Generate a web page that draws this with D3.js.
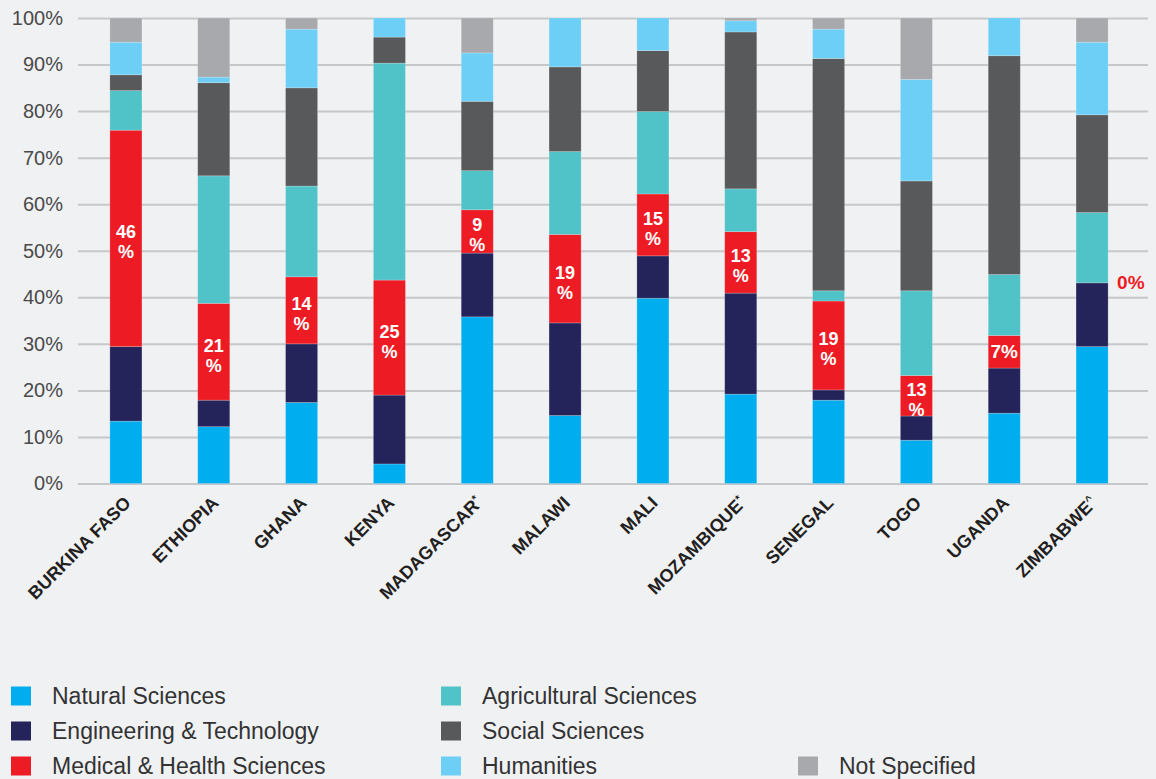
<!DOCTYPE html>
<html>
<head>
<meta charset="utf-8">
<script src="https://cdn.jsdelivr.net/npm/d3@7"></script>
<style>
  html, body { margin: 0; padding: 0; background: #F0F1F3; }
  svg { display: block; }
</style>
</head>
<body>
<svg id="chart" width="1156" height="779"></svg>
<script>
// ---- data ----
const countries = ["BURKINA FASO","ETHIOPIA","GHANA","KENYA","MADAGASCAR*","MALAWI","MALI","MOZAMBIQUE*","SENEGAL","TOGO","UGANDA","ZIMBABWE^"];
const naturalSciences      = [13.4, 12.2, 17.4,  4.2, 35.8, 14.6, 39.8, 19.2, 17.9,  9.3, 15.1, 29.4];
const engineeringTech      = [16.0,  5.7, 12.6, 14.8, 13.7, 19.9,  9.1, 21.7,  2.2,  5.2,  9.7, 13.7];
const medicalHealth        = [46.5, 20.8, 14.4, 24.7,  9.3, 19.0, 13.3, 13.2, 19.1,  8.7,  7.0,  0.0];
const agriculturalSciences = [ 8.5, 27.4, 19.5, 46.6,  8.4, 17.8, 17.7,  9.2,  2.2, 18.2, 13.1, 15.1];
const socialSciences       = [ 3.4, 20.0, 21.1,  5.6, 14.9, 18.2, 13.1, 33.7, 49.9, 23.6, 47.0, 21.0];
const humanities           = [ 7.0,  1.2, 12.6,  4.1, 10.4, 10.5,  7.0,  2.4,  6.3, 21.8,  8.1, 15.6];
const notSpecified         = [ 5.2, 12.7,  2.4,  0.0,  7.5,  0.0,  0.0,  0.6,  2.4, 13.2,  0.0,  5.2];
const medicalLabels        = [46, 21, 14, 25, 9, 19, 15, 13, 19, 13, 7, 0];
const yTicks = [0, 10, 20, 30, 40, 50, 60, 70, 80, 90, 100];

const seriesNames  = ["Natural Sciences","Engineering & Technology","Medical & Health Sciences","Agricultural Sciences","Social Sciences","Humanities","Not Specified"];
const seriesKeys   = ["ns","et","mh","ag","ss","hu","nsp"];
const seriesColors = ["#00AEEF","#24235A","#ED1C24","#50C3C8","#58595B","#6DCFF6","#A7A9AC"];
const seriesValues = [naturalSciences, engineeringTech, medicalHealth, agriculturalSciences, socialSciences, humanities, notSpecified];

// ---- build table ----
const table = countries.map((c, i) => {
  const row = { country: c, idx: i };
  seriesKeys.forEach((k, j) => row[k] = seriesValues[j][i]);
  return row;
});

const svg = d3.select("#chart");

const x = d3.scaleBand().domain(countries).range([82, 1136]).paddingInner(0.635).paddingOuter(0.3175);
const y = d3.scaleLinear().domain([0, 100]).range([483.5, 18]);
const color = d3.scaleOrdinal().domain(seriesKeys).range(seriesColors);

// gridlines + y labels
const yAxis = d3.axisLeft(y).tickValues(yTicks).tickSize(-(1148 - 78)).tickFormat(d => d + "%").tickPadding(15);
const gAxis = svg.append("g").attr("transform", "translate(78,0)").call(yAxis);
gAxis.select(".domain").remove();
gAxis.selectAll(".tick line").attr("stroke", "#C6C7C9").attr("stroke-width", 2);
gAxis.selectAll(".tick text")
  .attr("fill", "#4a4a4a")
  .attr("font-family", "'Liberation Sans', Arial, sans-serif")
  .attr("font-size", 20)
  .attr("font-weight", 300);

// stacked bars
const stack = d3.stack().keys(seriesKeys);
const stacked = stack(table);

svg.append("g").selectAll("g")
  .data(stacked)
  .join("g")
  .attr("fill", d => color(d.key))
  .selectAll("rect")
  .data(d => d)
  .join("rect")
  .attr("x", d => x(d.data.country))
  .attr("width", x.bandwidth())
  .attr("y", d => y(d[1]))
  .attr("height", d => Math.max(0, y(d[0]) - y(d[1])))
  .attr("stroke", "rgba(255,255,255,0.25)")
  .attr("stroke-width", 0.8);

// medical labels
const medLayer = stacked[seriesKeys.indexOf("mh")];
const lblFont = "'Liberation Sans', Arial, sans-serif";
const lg = svg.append("g");
medLayer.forEach((d, i) => {
  const cx = x(d.data.country) + x.bandwidth() / 2;
  const top = y(d[1]), bot = y(d[0]);
  const h = bot - top;
  const mid = (top + bot) / 2;
  const v = medicalLabels[i];
  if (h < 1) {
    lg.append("text")
      .attr("x", x(d.data.country) + x.bandwidth() + 9)
      .attr("y", mid)
      .attr("dominant-baseline", "central")
      .attr("fill", "#ED1C24")
      .attr("font-family", lblFont).attr("font-weight", "bold").attr("font-size", 19)
      .text(v + "%");
  } else if (h < 36) {
    lg.append("text")
      .attr("x", cx).attr("y", mid)
      .attr("text-anchor", "middle").attr("dominant-baseline", "central")
      .attr("fill", "#fff")
      .attr("font-family", lblFont).attr("font-weight", "bold").attr("font-size", 19)
      .text(v + "%");
  } else {
    const t = lg.append("text")
      .attr("text-anchor", "middle")
      .attr("fill", "#fff")
      .attr("font-family", lblFont).attr("font-weight", "bold").attr("font-size", 18);
    t.append("tspan").attr("x", cx).attr("y", mid - 6).attr("dominant-baseline", "central").text(v);
    t.append("tspan").attr("x", cx).attr("y", mid + 14).attr("dominant-baseline", "central").text("%");
  }
});

// x labels
const xg = svg.append("g");
countries.forEach(c => {
  const cx = x(c) + x.bandwidth() / 2;
  const t = xg.append("text")
    .attr("transform", `translate(${cx + 6},${504}) rotate(-45)`)
    .attr("text-anchor", "end")
    .attr("fill", "#231F20")
    .attr("font-family", lblFont)
    .attr("font-weight", "bold")
    .attr("font-size", 18);
  const m = c.match(/^(.*?)([*^])$/);
  if (m) {
    t.append("tspan").text(m[1]);
    t.append("tspan").attr("font-size", 11).attr("dy", -6).text(m[2]);
  } else {
    t.text(c);
  }
});

// legend
const legendCols = [11, 441, 798];
const legendRows = [696, 731, 766];
const legendPos = [[0,0],[0,1],[0,2],[1,0],[1,1],[1,2],[2,2]];
const leg = svg.append("g");
seriesNames.forEach((name, i) => {
  const [c, r] = legendPos[i];
  const gx = legendCols[c], gy = legendRows[r];
  leg.append("rect").attr("x", gx).attr("y", gy - 9.5).attr("width", 20).attr("height", 19).attr("fill", seriesColors[i]);
  leg.append("text")
    .attr("x", gx + 41).attr("y", gy)
    .attr("dominant-baseline", "central")
    .attr("fill", "#333")
    .attr("font-family", "'Liberation Sans', Arial, sans-serif")
    .attr("font-size", 23)
    .attr("font-weight", 300)
    .text(name);
});
</script>
</body>
</html>
